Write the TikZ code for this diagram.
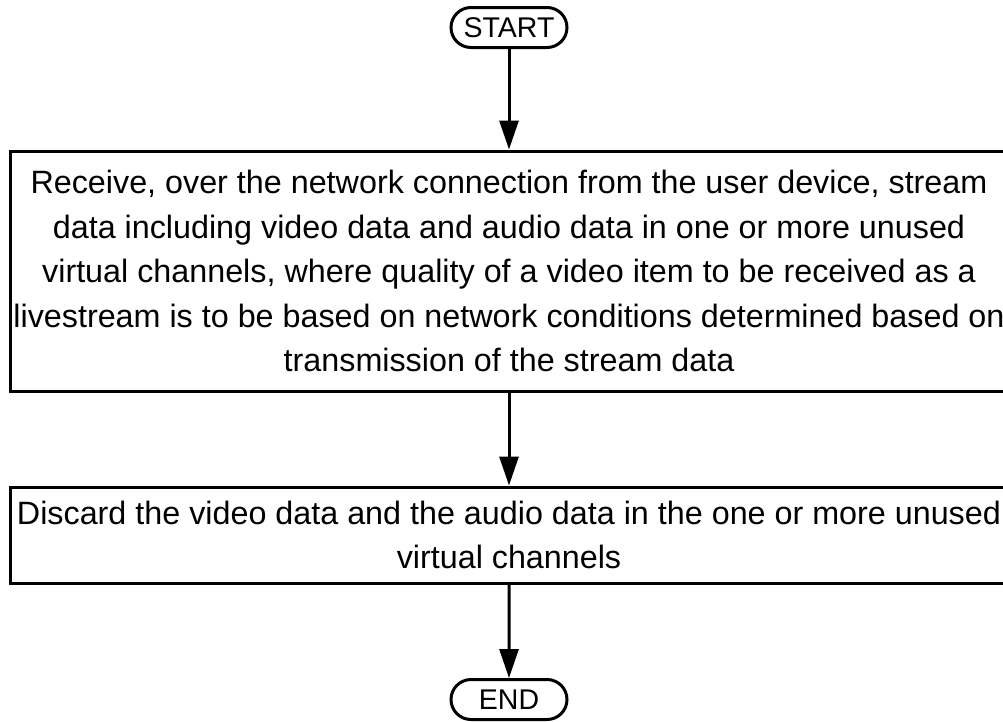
\documentclass[tikz,border=0pt]{standalone}
\usepackage{fontspec}
\setmainfont{Liberation Sans}
\usetikzlibrary{arrows.meta,shapes.misc}
\begin{document}
\begin{tikzpicture}[x=1pt,y=-1pt,
  term/.style={draw,line width=3pt,rounded rectangle,minimum width=116pt,minimum height=40pt,inner sep=0pt,font=\fontsize{28.5}{32}\selectfont},
  procbox/.style={draw,line width=3pt,rectangle,minimum width=998pt,inner sep=0pt,align=center,font=\fontsize{32.3}{44.5}\selectfont},
  flow/.style={line width=3pt,-{Triangle[length=29pt,width=19pt]}}]
\useasboundingbox (0,0) rectangle (1003,721);
\node[term] (start) at (509,27.5) {START};
\node[procbox,minimum height=240pt] (recv) at (509,271) {Receive, over the network connection from the user device, stream\\data including video data and audio data in one or more unused\\virtual channels, where quality of a video item to be received as a\\livestream is to be based on network conditions determined based on\\transmission of the stream data};
\node[procbox,minimum height=96pt] (disc) at (509,535) {Discard the video data and the audio data in the one or more unused\\virtual channels};
\node[term] (end) at (509,699.5) {END};
\draw[flow] (start) -- (recv);
\draw[flow] (recv) -- (disc);
\draw[flow] (disc) -- (end);
\end{tikzpicture}
\end{document}
